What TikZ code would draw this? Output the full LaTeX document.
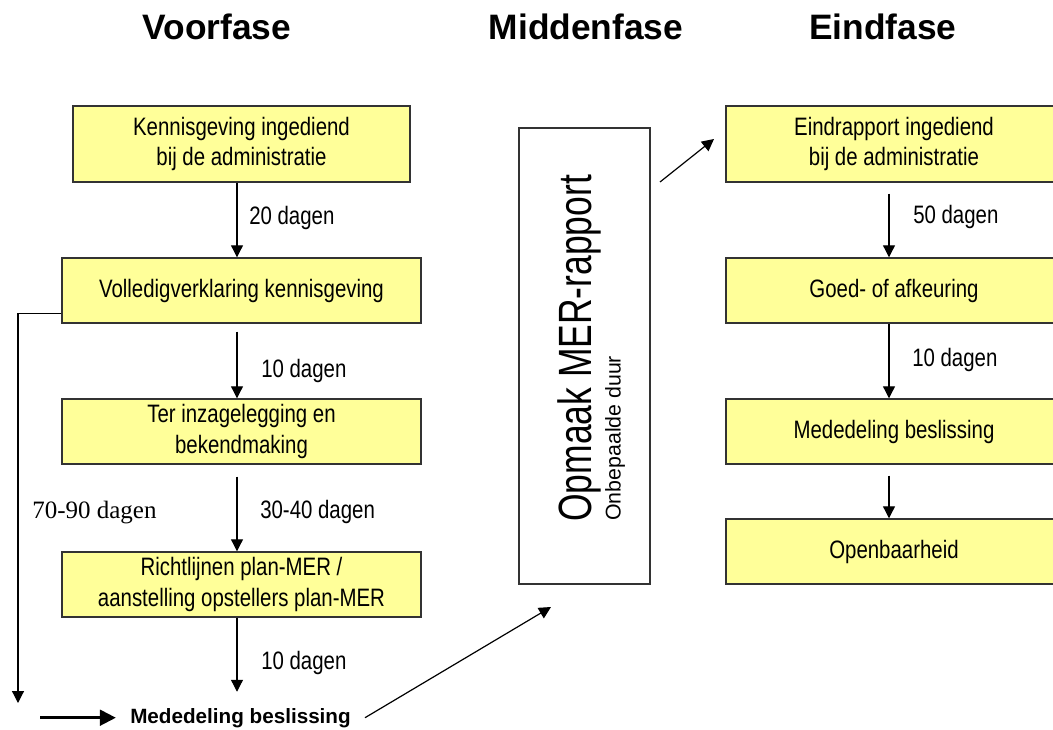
\documentclass[tikz,border=0pt]{standalone}
\usepackage{graphicx}
\usepackage{fontspec}
\setmainfont{Liberation Sans}
\newfontfamily\bodyfont[FakeStretch=0.81]{Liberation Sans}
\newfontfamily\serifface{Liberation Serif}
\usetikzlibrary{arrows.meta,calc}
\definecolor{boxfill}{HTML}{FFFF99}
\definecolor{boxline}{HTML}{333333}
\tikzset{
  stage/.style={draw=boxline, line width=1.1pt, fill=boxfill, inner sep=0pt, align=center,
    font=\bodyfont\fontsize{18.9pt}{23pt}\selectfont},
  flow/.style={line width=0.9pt, -{Triangle[length=9pt,width=9pt]}},
  days/.style={anchor=base west, inner sep=0pt, font=\bodyfont\fontsize{18.9pt}{22pt}\selectfont},
  phase/.style={anchor=base, inner sep=0pt, font=\bfseries\fontsize{26.5pt}{30pt}\selectfont},
}
\begin{document}
\begin{tikzpicture}[x=0.75pt,y=-0.75pt]
\useasboundingbox (0,0) rectangle (1053,729);
\clip (0,0) rectangle (1053,729);
\fill[white] (0,0) rectangle (1053,729);

% phase headings
\node[phase] (t1) at (217,39) {Voorfase};
\node[phase] (t2) at (586,39) {Middenfase};
\node[phase] (t3) at (883,39) {Eindfase};

% first phase
\node[stage, minimum width=337*0.75pt, minimum height=76*0.75pt] (b1) at (241.5,144)
  {Kennisgeving ingediend\\bij de administratie};
\node[stage, minimum width=359*0.75pt, minimum height=65*0.75pt] (b2) at (241.5,290.5)
  {Volledigverklaring kennisgeving};
\node[stage, minimum width=359*0.75pt, minimum height=65*0.75pt] (b3) at (241.5,431.5)
  {Ter inzagelegging en\\bekendmaking};
\node[stage, minimum width=359*0.75pt, minimum height=65*0.75pt] (b4) at (241.5,584.5)
  {Richtlijnen plan-MER /\\aanstelling opstellers plan-MER};
\node[anchor=base, font=\bfseries\fontsize{15.5pt}{18pt}\selectfont, inner xsep=10.5pt, inner ysep=12pt]
  (dec) at (240.5,723) {Mededeling beslissing};

% middle phase
\node[draw=boxline, line width=1.1pt, fill=white, inner sep=0pt,
  minimum width=131*0.75pt, minimum height=456*0.75pt] (mid) at (584.5,356) {};
\node[rotate=90, anchor=base west, inner sep=0pt, font=\fontsize{35pt}{40pt}\selectfont]
  (midtitle) at (591,522) {\scalebox{0.76}[1]{Opmaak MER-rapport}};
\node[rotate=90, anchor=base west, inner sep=0pt, font=\fontsize{16pt}{18pt}\selectfont]
  (midsub) at (620.5,521) {Onbepaalde duur};

% final phase
\node[stage, minimum width=336*0.75pt, minimum height=76*0.75pt] (e1) at (894,144)
  {Eindrapport ingediend\\bij de administratie};
\node[stage, minimum width=336*0.75pt, minimum height=65*0.75pt] (e2) at (894,290.5)
  {Goed- of afkeuring};
\node[stage, minimum width=336*0.75pt, minimum height=65*0.75pt] (e3) at (894,431.5)
  {Mededeling beslissing};
\node[stage, minimum width=336*0.75pt, minimum height=65*0.75pt] (e4) at (894,551.5)
  {Openbaarheid};

% arrow columns
\coordinate (colL) at (237,0);
\coordinate (colR) at (889,0);

\draw[flow] (b1.south -| colL) -- (b2.north -| colL);
\draw[flow] ($(b2.south -| colL)+(0,8)$) -- (b3.north -| colL);
\draw[flow] ($(b3.south -| colL)+(0,12)$) -- (b4.north -| colL);
\draw[flow] (b4.south -| colL) -- (dec.north -| colL);

\draw[flow] ($(e1.south -| colR)+(0,11)$) -- (e2.north -| colR);
\draw[flow] (e2.south -| colR) -- (e3.north -| colR);
\draw[flow] ($(e3.south -| colR)+(0,11)$) -- (e4.north -| colR);

% duration labels
\node[days] (l1) at (249,224) {20 dagen};
\node[days] (l2) at (261,377) {10 dagen};
\node[days] (l3) at (260,518) {30-40 dagen};
\node[days] (l4) at (261,669) {10 dagen};
\node[days] (r1) at (913,223) {50 dagen};
\node[days] (r2) at (912,366) {10 dagen};
\node[anchor=base west, inner sep=0pt, font=\serifface\fontsize{18.75pt}{22pt}\selectfont]
  (loopdays) at (32,518) {70-90 dagen};

% shortcut along the left margin
\coordinate (loopend) at (18,703);
\draw[flow] ($(b2.south west)+(0,-10)$) -| (loopend);

% lead-in to the decision
\coordinate (leadin) at (40,0);
\draw[line width=2.6pt, -{Triangle[length=12pt,width=11.5pt]}] (dec.west -| leadin) -- (dec.west);

% links through the middle phase
\coordinate (midin) at (551,607);
\draw[flow] (dec.east) -- (midin);
\coordinate (midout) at (660,182);
\coordinate (eintip) at (714,139);
\draw[flow] (midout) -- (eintip);
\end{tikzpicture}
\end{document}
